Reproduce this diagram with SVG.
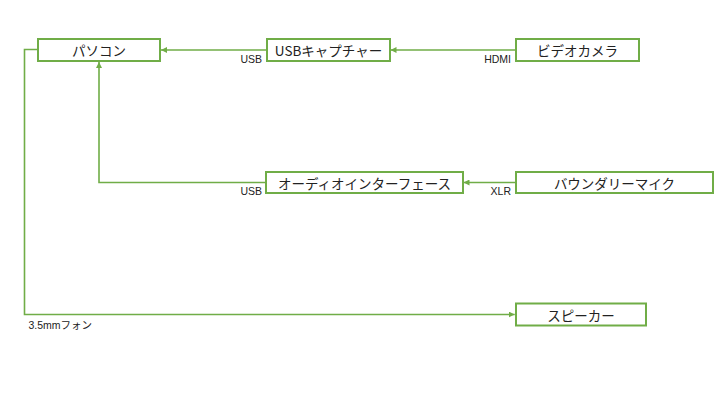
<svg xmlns="http://www.w3.org/2000/svg" width="720" height="405" viewBox="0 0 720 405">
<style>
.box{fill:#fff;stroke:#70AD47;stroke-width:2}
.lbl{font-family:"Noto Sans CJK JP","Noto Sans",sans-serif;font-size:13.5px;fill:#222;text-anchor:middle;dominant-baseline:central}
.edge{fill:none;stroke:#70AD47;stroke-width:1.6}
.elbl{font-family:"Liberation Sans","Noto Sans CJK JP",sans-serif;font-size:10.5px;fill:#222}
</style>
<defs>
<marker id="ah" viewBox="0 0 6 6" refX="6" refY="3" markerWidth="6" markerHeight="6" markerUnits="userSpaceOnUse" orient="auto">
<path d="M0,0 L6,3 L0,6 z" fill="#70AD47"/>
</marker>
</defs>
<rect width="720" height="405" fill="#fff"/>
<g id="connectors">
<path class="edge" d="M515.7,50 H390.5" marker-end="url(#ah)"/>
<path class="edge" d="M266.7,50 H161" marker-end="url(#ah)"/>
<path class="edge" d="M266,182.5 H99 V62" marker-end="url(#ah)"/>
<path class="edge" d="M515.7,182.5 H463.5" marker-end="url(#ah)"/>
<path class="edge" d="M37.7,49.5 H24.5 V314.5 H514.7" marker-end="url(#ah)"/>
<text class="elbl" x="262" y="62.5" text-anchor="end">USB</text>
<text class="elbl" x="511" y="62.5" text-anchor="end">HDMI</text>
<text class="elbl" x="262" y="195" text-anchor="end">USB</text>
<text class="elbl" x="511" y="195" text-anchor="end">XLR</text>
<text class="elbl" x="28.5" y="329">3.5mmフォン</text>
</g>
<g id="pc"><rect class="box" x="38" y="39" width="122" height="22"/><text class="lbl" x="99" y="50">パソコン</text></g>
<g id="usbcap"><rect class="box" x="267" y="39" width="123" height="22"/><text class="lbl" x="328.5" y="50">USBキャプチャー</text></g>
<g id="camera"><rect class="box" x="516" y="39" width="123" height="22"/><text class="lbl" x="577.5" y="50">ビデオカメラ</text></g>
<g id="audioif"><rect class="box" x="266" y="172" width="197" height="21"/><text class="lbl" x="364.5" y="182.5">オーディオインターフェース</text></g>
<g id="mic"><rect class="box" x="516" y="172" width="197" height="21"/><text class="lbl" x="614.5" y="182.5">バウンダリーマイク</text></g>
<g id="speaker"><rect class="box" x="516" y="303.5" width="130" height="22"/><text class="lbl" x="581" y="314.5">スピーカー</text></g>
</svg>
